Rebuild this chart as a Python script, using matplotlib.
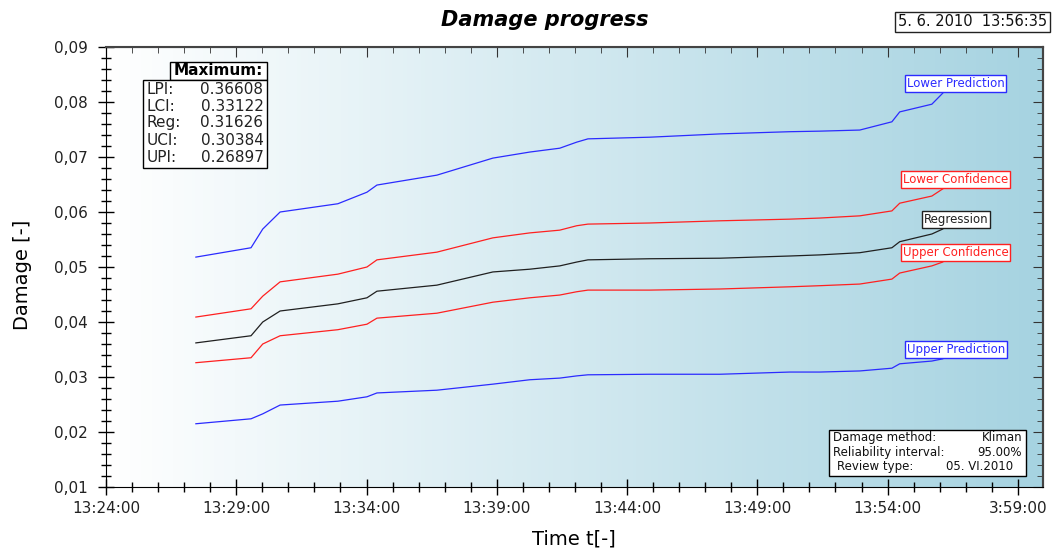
import matplotlib
matplotlib.use("Agg")
import matplotlib.pyplot as plt
import matplotlib.dates as mdates
from matplotlib.ticker import MultipleLocator, FuncFormatter, FixedLocator
from matplotlib.colors import LinearSegmentedColormap
import numpy as np
import pandas as pd

plt.rcParams['font.family'] = ['DejaVu Sans']

# data
times = ['13:27:27', '13:29:34', '13:30:01', '13:30:41', '13:32:54', '13:34:01',
         '13:34:24', '13:36:42', '13:38:51', '13:40:16', '13:41:25', '13:42:04',
         '13:42:30', '13:44:52', '13:47:34', '13:50:15', '13:51:24', '13:52:56',
         '13:54:10', '13:54:28', '13:55:42', '13:56:07']
lower_pred = [0.0518, 0.0535, 0.0569, 0.0600, 0.0615, 0.0636, 0.0649, 0.0667,
              0.0698, 0.0709, 0.0716, 0.0727, 0.0733, 0.0736, 0.0742, 0.0746,
              0.0747, 0.0749, 0.0764, 0.0782, 0.0796, 0.0816]
lower_conf = [0.0409, 0.0424, 0.0447, 0.0473, 0.0487, 0.0500, 0.0513, 0.0527,
              0.0553, 0.0562, 0.0567, 0.0575, 0.0578, 0.0580, 0.0584, 0.0587,
              0.0589, 0.0593, 0.0602, 0.0616, 0.0629, 0.0642]
regression = [0.0362, 0.0375, 0.0400, 0.0420, 0.0433, 0.0444, 0.0456, 0.0467,
              0.0491, 0.0496, 0.0502, 0.0509, 0.0513, 0.0515, 0.0516, 0.0520,
              0.0522, 0.0526, 0.0535, 0.0546, 0.0560, 0.0569]
upper_conf = [0.0326, 0.0335, 0.0360, 0.0375, 0.0386, 0.0396, 0.0407, 0.0416,
              0.0436, 0.0444, 0.0449, 0.0455, 0.0458, 0.0458, 0.0460, 0.0464,
              0.0466, 0.0469, 0.0478, 0.0489, 0.0502, 0.0509]
upper_pred = [0.0215, 0.0224, 0.0233, 0.0249, 0.0256, 0.0264, 0.0271, 0.0276,
              0.0287, 0.0295, 0.0298, 0.0302, 0.0304, 0.0305, 0.0305, 0.0309,
              0.0309, 0.0311, 0.0316, 0.0324, 0.0329, 0.0333]

series_names = ['Lower Prediction', 'Lower Confidence', 'Regression',
                'Upper Confidence', 'Upper Prediction']
series_colors = ['#2b2bff', '#ff2020', '#202020', '#ff2020', '#2b2bff']

max_labels = ['LPI:', 'LCI:', 'Reg:', 'UCI:', 'UPI:']
max_values = ['0.36608', '0.33122', '0.31626', '0.30384', '0.26897']

info_labels = ['Damage method:', 'Reliability interval:', 'Review type:']
info_values = ['Kliman', '95.00%', '05. VI.2010']

xtick_labels = ['13:24:00', '13:29:00', '13:34:00', '13:39:00', '13:44:00',
                '13:49:00', '13:54:00', '3:59:00']

day = '2010-06-05 '
x = mdates.date2num(pd.to_datetime([day + t for t in times]))
xmin = mdates.date2num(pd.Timestamp(day + '13:24:00'))
xmax = mdates.date2num(pd.Timestamp(day + '13:59:58'))
xticks = mdates.date2num(pd.to_datetime([day + '13:%02d:00' % m for m in range(24, 60, 5)]))
xminor = mdates.date2num(pd.to_datetime([day + '13:%02d:00' % m for m in range(24, 60)]))

fig = plt.figure(figsize=(10.55, 5.5), dpi=100)
ax = fig.add_axes([106 / 1055, 1 - 487 / 550, 937 / 1055, 440 / 550])

# gradient background
cmap = LinearSegmentedColormap.from_list('bg', ['#ffffff', '#a6d3e1'])
grad = np.linspace(0, 1, 256).reshape(1, -1)
ax.imshow(grad, cmap=cmap, aspect='auto', extent=[xmin, xmax, 0.01, 0.09],
          zorder=0, interpolation='bicubic')

all_series = [lower_pred, lower_conf, regression, upper_conf, upper_pred]
for name, vals, col in zip(series_names, all_series, series_colors):
    ax.plot(x, vals, color=col, lw=0.9, zorder=2)
    ax.annotate(name, xy=(x[-1], vals[-1]), xytext=(13, 3),
                textcoords='offset pixels', ha='center', va='bottom',
                fontsize=8.5, color=col, zorder=5,
                bbox=dict(boxstyle='square,pad=0.15', fc='white', ec=col, lw=1))

ax.set_xlim(xmin, xmax)
ax.set_ylim(0.01, 0.09)

ax.xaxis.set_major_locator(FixedLocator(xticks))
ax.xaxis.set_minor_locator(FixedLocator(xminor))
ax.set_xticklabels(xtick_labels)
ax.yaxis.set_major_locator(MultipleLocator(0.01))
ax.yaxis.set_minor_locator(MultipleLocator(0.002))
ax.yaxis.set_major_formatter(FuncFormatter(lambda v, p: ('%.2f' % v).replace('.', ',')))

ax.tick_params(which='major', direction='inout', length=12, width=1, labelsize=11,
               color='black', labelcolor='#222222')
ax.tick_params(which='minor', direction='inout', length=7, width=1, color='black')
ax.tick_params(axis='x', pad=4)
ax.tick_params(axis='y', pad=7)

top = ax.secondary_xaxis('top')
top.xaxis.set_major_locator(FixedLocator(xticks))
top.xaxis.set_minor_locator(FixedLocator(xminor))
top.tick_params(which='major', direction='in', length=7, labeltop=False, color='#333333')
top.tick_params(which='minor', direction='in', length=4, color='#333333')
right = ax.secondary_yaxis('right')
right.yaxis.set_major_locator(MultipleLocator(0.01))
right.yaxis.set_minor_locator(MultipleLocator(0.002))
right.tick_params(which='major', direction='in', length=7, labelright=False, color='#333333')
right.tick_params(which='minor', direction='in', length=4, color='#333333')
for s in ['top', 'right']:
    ax.spines[s].set_color('#444444')
    ax.spines[s].set_linewidth(1.5)
top.spines['top'].set_color('#444444')
right.spines['right'].set_color('#444444')
right.spines['right'].set_linewidth(1.5)

ax.set_ylabel('Damage [-]', fontsize=14, va='center')
ax.yaxis.set_label_coords(-0.0896, 0.482)
ax.set_xlabel('Time t[-]', fontsize=14, va='center')
ax.xaxis.set_label_coords(0.4995, -0.1185)

fig.text(545 / 1055, 1 - 20 / 550, 'Damage progress', ha='center', va='center',
         fontsize=15, fontweight='bold', fontstyle='italic')
fig.text(1047 / 1055, 1 - 22 / 550, '5. 6. 2010  13:56:35', ha='right', va='center',
         fontsize=10.5, color='#111111',
         bbox=dict(boxstyle='square,pad=0.2', fc='white', ec='#222222', lw=1))

# maximum table
ax.add_patch(plt.Rectangle((0.0683, 0.925), 0.1035, 0.0409, transform=ax.transAxes,
                           fc='white', ec='black', lw=1, zorder=4))
ax.add_patch(plt.Rectangle((0.0395, 0.725), 0.1323, 0.200, transform=ax.transAxes,
                           fc='white', ec='black', lw=1, zorder=4))
ax.text(0.1200, 0.9455, 'Maximum:', transform=ax.transAxes, ha='center', va='center',
        fontsize=11, fontweight='bold', zorder=5)
row_y = [0.9045, 0.8659, 0.8273, 0.7886, 0.7500]
for lab, val, yy in zip(max_labels, max_values, row_y):
    ax.text(0.0430, yy, lab, transform=ax.transAxes, ha='left', va='center',
            fontsize=11, color='#222222', zorder=5)
    ax.text(0.1680, yy, val, transform=ax.transAxes, ha='right', va='center',
            fontsize=11, color='#222222', zorder=5)

# info box
ax.add_patch(plt.Rectangle((0.7716, 0.025), 0.2103, 0.1045, transform=ax.transAxes,
                           fc='white', ec='black', lw=1, zorder=4))
info_y = [0.1114, 0.0773, 0.0455]
info_x0 = [0.7759, 0.7759, 0.7802]
info_x1 = [0.9776, 0.9776, 0.9680]
for lab, val, yy, xa, xb in zip(info_labels, info_values, info_y, info_x0, info_x1):
    ax.text(xa, yy, lab, transform=ax.transAxes, ha='left', va='center',
            fontsize=8.5, color='#111111', zorder=5)
    ax.text(xb, yy, val, transform=ax.transAxes, ha='right', va='center',
            fontsize=8.5, color='#111111', zorder=5)

fig.savefig('out.png', dpi=100)
